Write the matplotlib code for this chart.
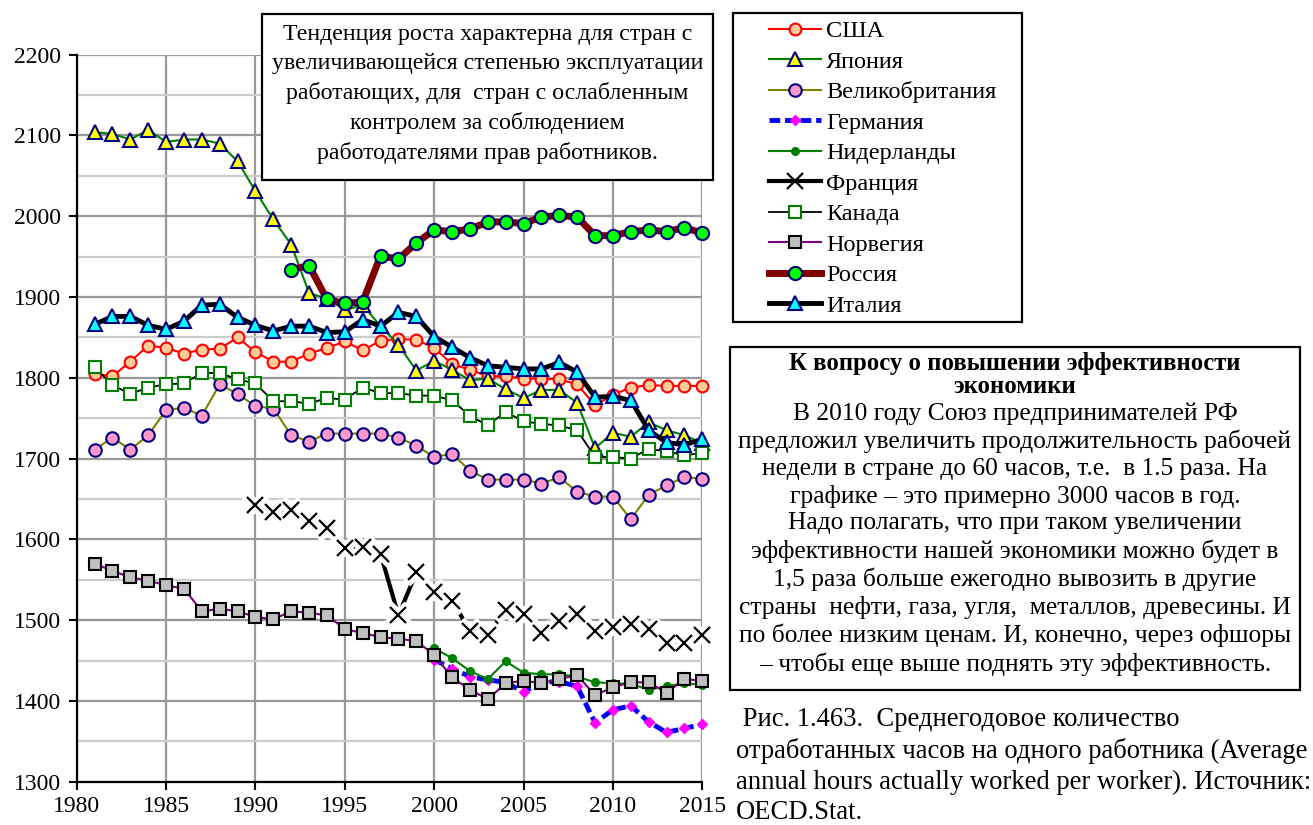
import matplotlib
matplotlib.use("Agg")
from matplotlib import pyplot as plt
from matplotlib.lines import Line2D
from matplotlib.patches import Rectangle
from matplotlib.ticker import MultipleLocator

plt.rcParams['font.family'] = ['Liberation Serif', 'DejaVu Serif']

# data (hours per worker per year)
years = list(range(1981, 2016))
usa = [1805, 1802, 1820, 1840, 1837, 1830, 1835, 1836, 1850, 1832,
       1820, 1820, 1830, 1837, 1845, 1834, 1846, 1848, 1847, 1837,
       1817, 1810, 1802, 1802, 1799, 1799, 1798, 1792, 1766, 1779,
       1788, 1791, 1790, 1790, 1790]
japan = [2104, 2102, 2095, 2107, 2092, 2095, 2095, 2090, 2068, 2031,
         1996, 1965, 1905, 1898, 1884, 1890, 1864, 1841, 1809, 1821,
         1810, 1797, 1799, 1786, 1775, 1785, 1785, 1769, 1713, 1732,
         1727, 1745, 1735, 1729, 1719]
uk = [1711, 1726, 1711, 1729, 1760, 1763, 1753, 1792, 1780, 1765,
      1762, 1729, 1721, 1731, 1731, 1731, 1731, 1726, 1716, 1702,
      1706, 1685, 1674, 1674, 1674, 1669, 1677, 1659, 1653, 1653,
      1625, 1655, 1667, 1677, 1675]
years_de = list(range(2000, 2016))
germany = [1451, 1440, 1430, 1426, 1423, 1411, 1423, 1424, 1418, 1373,
           1389, 1394, 1374, 1361, 1366, 1371]
netherlands = [1465, 1453, 1437, 1427, 1449, 1435, 1433, 1433, 1430, 1423,
               1422, 1421, 1414, 1418, 1422, 1420]
years_fr = list(range(1990, 2016))
france = [1643, 1634, 1636, 1623, 1614, 1589, 1591, 1582, 1506, 1559,
          1535, 1524, 1487, 1482, 1513, 1508, 1484, 1499, 1507, 1487,
          1492, 1495, 1489, 1472, 1472, 1482]
canada = [1813, 1791, 1780, 1788, 1792, 1793, 1806, 1806, 1798, 1793,
          1771, 1771, 1768, 1775, 1773, 1788, 1781, 1781, 1778, 1778,
          1772, 1753, 1741, 1758, 1746, 1743, 1741, 1735, 1702, 1702,
          1700, 1712, 1709, 1704, 1707]
norway = [1570, 1561, 1553, 1549, 1543, 1539, 1511, 1514, 1511, 1504,
          1501, 1511, 1509, 1506, 1489, 1484, 1479, 1477, 1474, 1457,
          1429, 1414, 1402, 1422, 1425, 1422, 1427, 1432, 1407, 1417,
          1423, 1423, 1410, 1427, 1425]
years_ru = list(range(1992, 2016))
russia = [1934, 1939, 1897, 1892, 1894, 1951, 1947, 1967, 1983, 1981,
          1984, 1993, 1993, 1991, 1999, 2001, 1999, 1976, 1976, 1981,
          1983, 1981, 1986, 1979]
italy = [1866, 1876, 1876, 1865, 1860, 1870, 1890, 1891, 1875, 1865,
         1858, 1864, 1864, 1856, 1857, 1872, 1864, 1881, 1876, 1851,
         1838, 1825, 1815, 1813, 1811, 1811, 1819, 1807, 1776, 1777,
         1772, 1735, 1720, 1717, 1724]

W, H = 1313, 825
fig = plt.figure(figsize=(W / 100, H / 100), dpi=100)
ax = fig.add_axes([76.7 / W, 1 - 781.7 / H, (702.3 - 76.7) / W, (781.7 - 54.7) / H])

navy = '#000080'
ax.plot(years, usa, color='red', lw=1.5, marker='o', ms=8.5, mfc='#ffcc99', mec='red', mew=1.5, clip_on=False)
ax.plot(years, japan, color='#008000', lw=1.5, marker='^', ms=10, mfc='yellow', mec=navy, mew=1.5, clip_on=False)
ax.plot(years, uk, color='#808000', lw=1.5, marker='o', ms=9, mfc='#ff99cc', mec=navy, mew=1.5, clip_on=False)
ax.plot(years_de, germany, color='blue', lw=3.5, ls=(0, (2.2, 1)), marker='D', ms=5, mfc='magenta', mec='magenta', clip_on=False)
ax.plot(years_de, netherlands, color='#008000', lw=1.5, marker='o', ms=5.5, mfc='#008000', mec='#008000', clip_on=False)
# France: thick line, crosses with a white halo that hides the line near them
ax.plot(years_fr, france, color='black', lw=3, clip_on=False)
ax.plot(years_fr, france, ls='none', marker='x', ms=14, mec='white', mew=8, clip_on=False)
ax.plot(years_fr, france, ls='none', marker='x', ms=11, mec='black', mew=1.6, clip_on=False)
ax.plot(years, canada, color='black', lw=1.3, marker='s', ms=9, mfc='white', mec='#008000', mew=1.5, clip_on=False)
ax.plot(years, norway, color='#800080', lw=1.5, marker='s', ms=9, mfc='#c0c0c0', mec='black', mew=1.5, clip_on=False)
ax.plot(years_ru, russia, color='#800000', lw=5, marker='o', ms=9.5, mfc='#00ff00', mec=navy, mew=1.5, clip_on=False)
ax.plot(years, italy, color='black', lw=3.5, marker='^', ms=10, mfc='cyan', mec=navy, mew=1.5, clip_on=False)

ax.set_xlim(1980, 2015)
ax.set_ylim(1300, 2200)
ax.set_xticks(range(1980, 2016, 5))
ax.set_yticks(range(1300, 2201, 100))
ax.yaxis.set_minor_locator(MultipleLocator(50))
ax.grid(True, which='major', color='#999999', lw=1.6)
ax.grid(True, which='minor', axis='y', color='#cccccc', lw=1.6)
ax.set_axisbelow(True)
for s in ['top', 'right']:
    ax.spines[s].set_visible(False)
for s in ['left', 'bottom']:
    ax.spines[s].set_linewidth(1.6)
ax.tick_params(which='major', direction='out', length=6, width=1.5, labelsize=17)
ax.tick_params(which='minor', length=0)
ax.tick_params(axis='y', pad=5)
ax.tick_params(axis='x', pad=4)

# note box at top
fig.patches.append(Rectangle((262 / W, 1 - 180 / H), (713 - 262) / W, (180 - 14) / H,
                             transform=fig.transFigure, fc='white', ec='black', lw=1.6, zorder=5))
note1 = ("Тенденция роста характерна для стран с\n"
         "увеличивающейся степенью эксплуатации\n"
         "работающих, для  стран с ослабленным\n"
         "контролем за соблюдением\n"
         "работодателями прав работников.")
fig.text(487.5 / W, 1 - 94 / H, note1, ha='center', va='center', ma='center',
         fontsize=17.2, linespacing=1.48, zorder=6)

# legend
fig.patches.append(Rectangle((733 / W, 1 - 322 / H), (1022 - 733) / W, (322 - 13) / H,
                             transform=fig.transFigure, fc='white', ec='black', lw=1.6, zorder=5))
handles = [
    Line2D([], [], color='red', lw=1.5, marker='o', ms=8.5, mfc='#ffcc99', mec='red', mew=1.5),
    Line2D([], [], color='#008000', lw=1.5, marker='^', ms=10, mfc='yellow', mec=navy, mew=1.5),
    Line2D([], [], color='#808000', lw=1.5, marker='o', ms=9, mfc='#ff99cc', mec=navy, mew=1.5),
    Line2D([], [], color='blue', lw=3.5, ls=(0, (2.2, 1)), marker='D', ms=5, mfc='magenta', mec='magenta'),
    Line2D([], [], color='#008000', lw=1.5, marker='o', ms=5.5, mfc='#008000', mec='#008000'),
    Line2D([], [], color='black', lw=3, marker='x', ms=11, mec='black', mew=1.6),
    Line2D([], [], color='black', lw=1.3, marker='s', ms=9, mfc='white', mec='#008000', mew=1.5),
    Line2D([], [], color='#800080', lw=1.5, marker='s', ms=9, mfc='#c0c0c0', mec='black', mew=1.5),
    Line2D([], [], color='#800000', lw=5, marker='o', ms=9.5, mfc='#00ff00', mec=navy, mew=1.5),
    Line2D([], [], color='black', lw=3.5, marker='^', ms=10, mfc='cyan', mec=navy, mew=1.5),
]
labels = ['США', 'Япония', 'Великобритания', 'Германия', 'Нидерланды',
          'Франция', 'Канада', 'Норвегия', 'Россия', 'Италия']
leg = fig.legend(handles, labels, loc='upper left', bbox_to_anchor=(769 / W, 1 - 20 / H),
                 frameon=False, fontsize=17.5, borderpad=0, borderaxespad=0,
                 handlelength=2.15, handletextpad=0.2, labelspacing=0.35)
leg.set_zorder(6)

# second box
fig.patches.append(Rectangle((730 / W, 1 - 690 / H), (1300 - 730) / W, (690 - 347) / H,
                             transform=fig.transFigure, fc='white', ec='black', lw=1.6, zorder=5))
title2 = "К вопросу о повышении эффективности\nэкономики"
body2 = ("В 2010 году Союз предпринимателей РФ\n"
         "предложил увеличить продолжительность рабочей\n"
         "недели в стране до 60 часов, т.е.  в 1.5 раза. На\n"
         "графике – это примерно 3000 часов в год.\n"
         "Надо полагать, что при таком увеличении\n"
         "эффективности нашей экономики можно будет в\n"
         "1,5 раза больше ежегодно вывозить в другие\n"
         "страны  нефти, газа, угля,  металлов, древесины. И\n"
         "по более низким ценам. И, конечно, через офшоры\n"
         "– чтобы еще выше поднять эту эффективность.")
fig.text(1015 / W, 1 - 375 / H, title2, ha='center', va='center', ma='center',
         fontsize=17.8, fontweight='bold', linespacing=0.98, zorder=6)
fig.text(1015 / W, 1 - 539 / H, body2, ha='center', va='center', ma='center',
         fontsize=18.4, linespacing=1.27, zorder=6)

caption = (" Рис. 1.463.  Среднегодовое количество\n"
           "отработанных часов на одного работника (Average\n"
           "annual hours actually worked per worker). Источник:\n"
           "OECD.Stat.")
fig.text(736 / W, 1 - 766 / H, caption, ha='left', va='center', ma='left',
         fontsize=19.2, linespacing=1.3)

fig.savefig('out.png', dpi=100)
